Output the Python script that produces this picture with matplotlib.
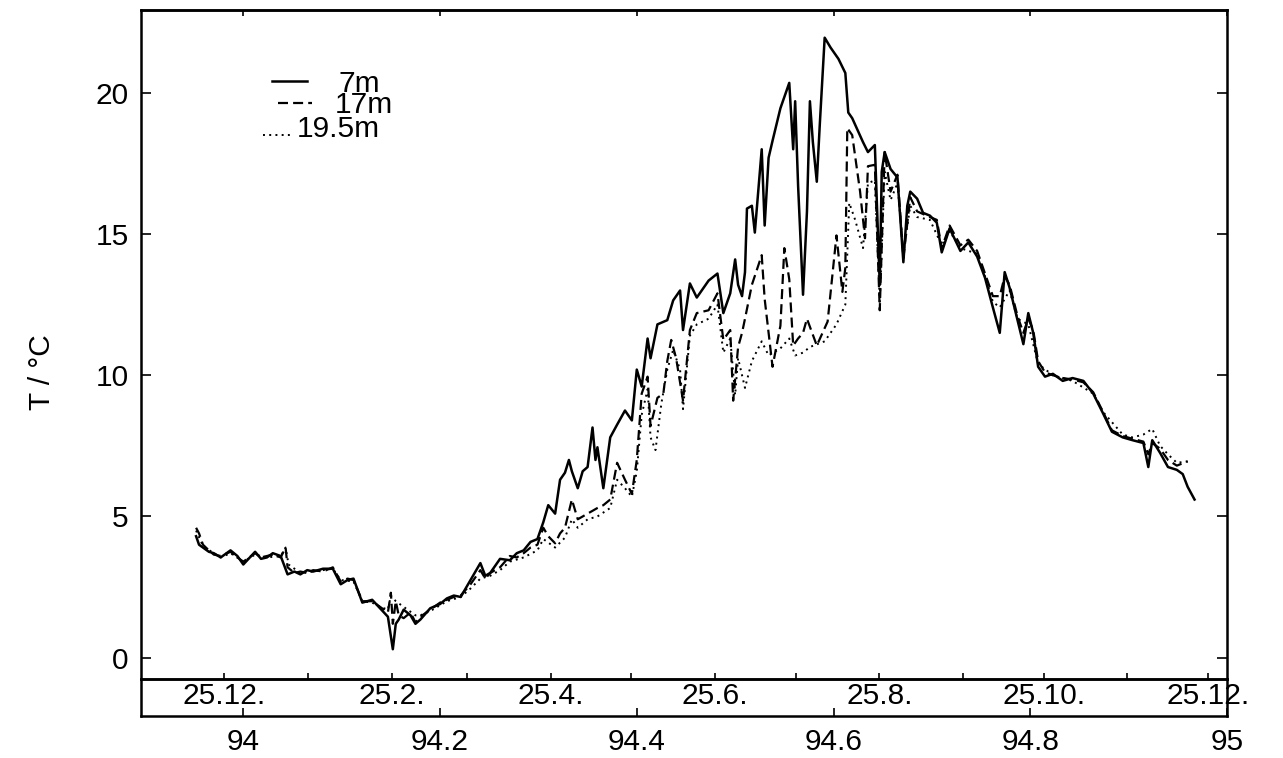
import datetime as dt
import matplotlib
matplotlib.use("Agg")
import matplotlib.pyplot as plt

plt.rcParams['font.family'] = ['Liberation Sans', 'DejaVu Sans']

# ---- temperature records (decimal year since 1900, degC) ----
t7 = [93.952, 93.955, 93.959, 93.965, 93.970, 93.977, 93.987, 93.994, 94.000, 94.012,
      94.018, 94.024, 94.030, 94.038, 94.045, 94.052, 94.058, 94.065, 94.071, 94.081,
      94.091, 94.099, 94.106, 94.112, 94.121, 94.131, 94.139, 94.147, 94.152, 94.155,
      94.158, 94.163, 94.170, 94.175, 94.180, 94.190, 94.200, 94.207, 94.214, 94.221,
      94.231, 94.241, 94.246, 94.251, 94.261, 94.271, 94.278, 94.285, 94.292, 94.299,
      94.305, 94.310, 94.317, 94.322, 94.327, 94.331, 94.334, 94.340, 94.345, 94.350,
      94.355, 94.358, 94.360, 94.366, 94.373, 94.380, 94.388, 94.395, 94.400, 94.405,
      94.411, 94.414, 94.421, 94.431, 94.437, 94.444, 94.447, 94.454, 94.461, 94.473,
      94.482, 94.488, 94.495, 94.500, 94.503, 94.507, 94.510, 94.512, 94.517, 94.520,
      94.527, 94.530, 94.534, 94.538, 94.546, 94.555, 94.559, 94.561, 94.564, 94.569,
      94.573, 94.576, 94.579, 94.583, 94.586, 94.591, 94.597, 94.605, 94.612, 94.615,
      94.619, 94.630, 94.635, 94.642, 94.647, 94.649, 94.652, 94.658, 94.665, 94.671,
      94.675, 94.678, 94.685, 94.691, 94.698, 94.705, 94.710, 94.718, 94.729, 94.737,
      94.746, 94.754, 94.762, 94.769, 94.774, 94.779, 94.787, 94.793, 94.798, 94.803,
      94.808, 94.815, 94.823, 94.833, 94.843, 94.854, 94.864, 94.874, 94.883, 94.894,
      94.904, 94.915, 94.920, 94.924, 94.932, 94.940, 94.949, 94.955, 94.960, 94.967]
T7 = [4.3, 4.0, 3.9, 3.75, 3.7, 3.55, 3.8, 3.6, 3.3, 3.75,
      3.5, 3.55, 3.7, 3.6, 2.95, 3.05, 2.95, 3.1, 3.05, 3.15,
      3.15, 2.6, 2.75, 2.8, 1.95, 2.05, 1.75, 1.45, 0.3, 1.2,
      1.35, 1.7, 1.5, 1.2, 1.35, 1.75, 1.9, 2.1, 2.2, 2.15,
      2.75, 3.35, 2.9, 3.0, 3.5, 3.45, 3.7, 3.8, 4.1, 4.2,
      4.8, 5.4, 5.1, 6.3, 6.55, 7.0, 6.6, 6.0, 6.6, 6.75,
      8.15, 7.0, 7.45, 6.0, 7.8, 8.25, 8.75, 8.4, 10.2, 9.6,
      11.3, 10.6, 11.8, 11.95, 12.65, 13.0, 11.6, 13.25, 12.75, 13.35,
      13.6, 12.2, 12.9, 14.1, 13.2, 12.8, 13.65, 15.9, 16.0, 15.05,
      18.0, 15.3, 17.7, 18.3, 19.45, 20.35, 18.0, 19.7, 16.7, 12.85,
      15.8, 19.7, 18.25, 16.85, 18.85, 21.95, 21.6, 21.2, 20.7, 19.3,
      19.1, 18.25, 17.9, 18.15, 13.2, 17.2, 17.9, 17.3, 17.0, 14.0,
      16.0, 16.5, 16.25, 15.75, 15.65, 15.4, 14.35, 15.2, 14.4, 14.7,
      14.2, 13.45, 12.4, 11.5, 13.65, 13.1, 11.95, 11.1, 12.2, 11.5,
      10.3, 9.95, 10.05, 9.8, 9.9, 9.8, 9.35, 8.65, 8.0, 7.8,
      7.7, 7.6, 6.75, 7.7, 7.25, 6.75, 6.65, 6.5, 6.05, 5.6]

t17 = [93.952, 93.955, 93.959, 93.965, 93.970, 93.977, 93.987, 93.994, 94.000, 94.012,
       94.018, 94.024, 94.030, 94.038, 94.043, 94.045, 94.052, 94.058, 94.065, 94.071,
       94.081, 94.091, 94.099, 94.106, 94.112, 94.121, 94.131, 94.139, 94.147, 94.150,
       94.152, 94.155, 94.158, 94.163, 94.170, 94.175, 94.180, 94.190, 94.200, 94.207,
       94.214, 94.221, 94.231, 94.241, 94.246, 94.251, 94.261, 94.271, 94.278, 94.285,
       94.292, 94.299, 94.305, 94.310, 94.317, 94.322, 94.327, 94.334, 94.340, 94.350,
       94.360, 94.366, 94.373, 94.380, 94.388, 94.395, 94.400, 94.405, 94.411, 94.414,
       94.421, 94.427, 94.431, 94.435, 94.440, 94.447, 94.454, 94.461, 94.473, 94.482,
       94.488, 94.495, 94.498, 94.503, 94.507, 94.510, 94.517, 94.527, 94.530, 94.534,
       94.538, 94.546, 94.550, 94.555, 94.559, 94.564, 94.569, 94.573, 94.583, 94.594,
       94.603, 94.609, 94.612, 94.614, 94.619, 94.627, 94.632, 94.635, 94.642, 94.647,
       94.652, 94.658, 94.665, 94.671, 94.678, 94.685, 94.698, 94.705, 94.710, 94.718,
       94.729, 94.737, 94.746, 94.754, 94.762, 94.769, 94.774, 94.779, 94.787, 94.793,
       94.798, 94.803, 94.808, 94.815, 94.823, 94.833, 94.843, 94.854, 94.864, 94.874,
       94.883, 94.894, 94.904, 94.915, 94.920, 94.924, 94.932, 94.940, 94.949, 94.960]
T17 = [4.6, 4.4, 4.0, 3.8, 3.65, 3.6, 3.75, 3.55, 3.4, 3.7,
       3.55, 3.6, 3.65, 3.55, 3.9, 3.2, 3.0, 3.05, 3.0, 3.1,
       3.05, 3.2, 2.7, 2.8, 2.75, 2.0, 2.0, 1.8, 1.6, 2.3,
       1.2, 2.0, 1.5, 1.4, 1.6, 1.25, 1.45, 1.7, 1.95, 2.05,
       2.15, 2.2, 2.6, 3.1, 2.8, 3.0, 3.2, 3.6, 3.55, 3.7,
       3.9, 4.0, 4.6, 4.3, 4.05, 4.4, 4.6, 5.6, 4.9, 5.1,
       5.3, 5.4, 5.6, 6.9, 6.3, 5.8, 7.0, 9.35, 9.95, 8.2,
       9.2, 9.35, 10.5, 11.25, 10.6, 9.1, 11.6, 12.2, 12.3, 12.9,
       11.25, 11.6, 9.1, 11.0, 11.5, 12.0, 13.2, 14.25, 12.7, 11.5,
       10.3, 11.75, 14.5, 13.4, 11.05, 11.3, 11.5, 12.0, 11.05, 11.9,
       14.95, 12.95, 13.8, 18.75, 18.5, 16.5, 14.85, 17.4, 17.45, 12.3,
       17.9, 16.5, 17.1, 14.15, 16.3, 15.8, 15.6, 15.5, 14.5, 15.3,
       14.6, 14.8, 14.4, 13.6, 12.8, 12.8, 13.5, 13.2, 12.1, 11.5,
       12.0, 11.6, 10.5, 10.1, 10.0, 9.9, 9.85, 9.75, 9.4, 8.7,
       8.05, 7.85, 7.75, 7.65, 7.2, 7.6, 7.4, 7.0, 6.8, 6.95]

t19 = [93.952, 93.959, 93.970, 93.977, 93.987, 94.000, 94.012, 94.024, 94.038, 94.043,
       94.046, 94.058, 94.071, 94.081, 94.091, 94.099, 94.112, 94.121, 94.131, 94.139,
       94.147, 94.150, 94.155, 94.165, 94.175, 94.180, 94.190, 94.207, 94.221, 94.231,
       94.241, 94.251, 94.261, 94.271, 94.285, 94.299, 94.305, 94.317, 94.327, 94.334,
       94.340, 94.350, 94.360, 94.373, 94.380, 94.388, 94.395, 94.400, 94.405, 94.411,
       94.414, 94.419, 94.425, 94.431, 94.437, 94.444, 94.447, 94.454, 94.461, 94.473,
       94.482, 94.488, 94.495, 94.500, 94.503, 94.510, 94.517, 94.527, 94.534, 94.546,
       94.555, 94.561, 94.569, 94.576, 94.591, 94.603, 94.612, 94.616, 94.622, 94.630,
       94.635, 94.642, 94.647, 94.652, 94.658, 94.665, 94.671, 94.678, 94.685, 94.698,
       94.710, 94.718, 94.729, 94.746, 94.754, 94.762, 94.769, 94.779, 94.787, 94.798,
       94.808, 94.823, 94.843, 94.864, 94.874, 94.894, 94.904, 94.915, 94.924, 94.932,
       94.940, 94.949, 94.960]
T19 = [4.5, 3.95, 3.7, 3.55, 3.7, 3.4, 3.65, 3.55, 3.6, 3.9,
       3.3, 3.0, 3.05, 3.1, 3.15, 2.75, 2.7, 2.0, 1.95, 1.8,
       1.7, 2.2, 2.0, 1.75, 1.5, 1.5, 1.65, 2.0, 2.15, 2.45,
       2.8, 2.9, 3.1, 3.4, 3.55, 3.8, 4.2, 3.9, 4.25, 4.9,
       4.6, 4.9, 5.0, 5.3, 6.3, 6.0, 5.7, 6.6, 8.6, 9.5,
       7.8, 7.35, 9.0, 10.2, 10.9, 10.2, 8.8, 11.4, 11.8, 12.0,
       12.5, 10.8, 11.3, 9.3, 10.6, 9.55, 10.5, 11.2, 10.7, 10.95,
       11.3, 10.7, 10.8, 11.0, 11.2, 11.8, 12.5, 16.1, 15.5, 14.5,
       16.8, 16.9, 12.6, 17.2, 16.2, 16.8, 14.3, 16.0, 15.6, 15.5,
       14.6, 15.1, 14.5, 14.3, 13.5, 12.6, 12.4, 13.0, 12.0, 11.8,
       10.4, 10.0, 9.8, 9.35, 8.7, 7.9, 7.8, 7.9, 8.1, 7.5,
       7.2, 6.9, 6.95]

series_labels = ["7m", "17m", "19.5m"]

# ---- axis annotation ----
year_ticks = [94, 94.2, 94.4, 94.6, 94.8, 95]
year_labels = ["94", "94.2", "94.4", "94.6", "94.8", "95"]
date_months = [(1993, 12), (1994, 1), (1994, 2), (1994, 3), (1994, 4), (1994, 5),
               (1994, 6), (1994, 7), (1994, 8), (1994, 9), (1994, 10), (1994, 11),
               (1994, 12)]
date_labels = ["25.12.", "", "25.2.", "", "25.4.", "", "25.6.", "", "25.8.", "",
               "25.10.", "", "25.12."]
y_ticks = [0, 5, 10, 15, 20]


def decimal_year(year, month, day=25):
    start = dt.date(year, 1, 1)
    return (year - 1900) + (dt.date(year, month, day) - start).days / 365.0


date_ticks = [decimal_year(y, m) for y, m in date_months]

FS = 21.5
W_PX, H_PX = 1283, 758
fig = plt.figure(figsize=(W_PX / 100, H_PX / 100), dpi=100)
left, right = 141 / W_PX, 1227 / W_PX
ax = fig.add_axes([left, 1 - 679 / H_PX, right - left, (679 - 10) / H_PX])
strip = fig.add_axes([left, 1 - 716 / H_PX, right - left, (716 - 679) / H_PX])
strip.set_facecolor('none')

xlim = (93.896, 95.0)

ax.plot(t7, T7, color='black', lw=1.8)
ax.plot(t17, T17, color='black', lw=1.6, linestyle=(0, (4.5, 2.3)))
ax.plot(t19, T19, color='black', lw=1.4, linestyle=(0, (1.0, 2.2)))

ax.set_xlim(*xlim)
ax.set_ylim(-0.754, 22.93)
ax.set_yticks(y_ticks)
ax.tick_params(axis='y', direction='in', length=7, width=1.2, left=True, right=True,
               labelsize=FS, pad=9)
ax.set_xticks(date_ticks)
ax.set_xticklabels(date_labels)
ax.tick_params(axis='x', direction='in', length=4.5, width=1.2, labelsize=FS, pad=2,
               bottom=True, top=False)

top = ax.secondary_xaxis('top')
top.set_xticks(year_ticks)
top.tick_params(axis='x', direction='in', length=4.5, width=1.2, labeltop=False)

strip.set_xlim(*xlim)
strip.set_ylim(0, 1)
strip.set_yticks([])
strip.set_xticks(year_ticks)
strip.set_xticklabels(year_labels)
strip.tick_params(axis='x', direction='in', length=6, width=1.2, labelsize=FS, pad=8.5)

for a in (ax, strip):
    for s in a.spines.values():
        s.set_linewidth(1.8)
top.spines['top'].set_linewidth(1.8)

fig.text(0.033, 0.509, "T / °C", rotation=90, ha='center', va='center', fontsize=FS)

# key in the upper left corner
key_styles = [dict(lw=1.8, linestyle='-'),
              dict(lw=1.6, linestyle=(0, (4.5, 2.3))),
              dict(lw=1.4, linestyle=(0, (1.0, 2.2)))]
key_lines = [((0.1206, 0.1529), 0.8939), ((0.1262, 0.1575), 0.861), ((0.1123, 0.139), 0.8132)]
key_text = [(0.1814, 0.8774), (0.1786, 0.846), (0.1436, 0.8102)]
for (xs, yk), (xt, yt), st, lab in zip(key_lines, key_text, key_styles, series_labels):
    ax.plot(xs, [yk, yk], color='black', transform=ax.transAxes, **st)
    ax.text(xt, yt, lab, transform=ax.transAxes, fontsize=FS, va='baseline', ha='left')

fig.savefig("out.png", dpi=100)
